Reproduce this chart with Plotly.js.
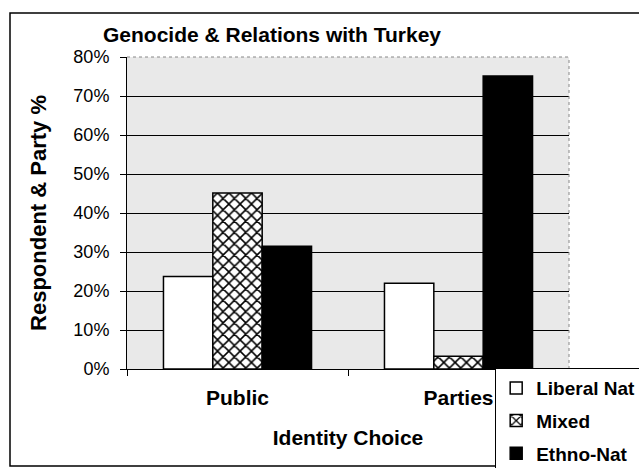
<!DOCTYPE html>
<html>
<head>
<meta charset="utf-8">
<script src="https://cdn.plot.ly/plotly-3.0.1.min.js"></script>
<style>html,body{margin:0;padding:0;background:#fff;}#chart{width:639px;height:468px;}</style>
</head>
<body>
<div id="chart"></div>
<script>
const categories = ["Public", "Parties"];
const liberalNat = [0.237, 0.22];
const mixed = [0.451, 0.033];
const ethnoNat = [0.315, 0.751];
const seriesNames = ["Liberal Nat", "Mixed", "Ethno-Nat"];
const yTicks = [0, 0.1, 0.2, 0.3, 0.4, 0.5, 0.6, 0.7, 0.8];
const yTickLabels = ["0%", "10%", "20%", "30%", "40%", "50%", "60%", "70%", "80%"];

const FONT = "Arial, 'Liberation Sans', sans-serif";

const traces = [
  {
    type: "bar", x: categories, y: liberalNat, name: seriesNames[0], legendgroup: "a",
    marker: {color: "#ffffff", line: {color: "#000000", width: 1.5}}
  },
  {
    type: "bar", x: categories, y: mixed, name: seriesNames[1], legendgroup: "b",
    marker: {color: "#ffffff", line: {color: "#000000", width: 1.5},
      pattern: {shape: "x", fgcolor: "#000000", bgcolor: "#ffffff", size: 8, solidity: 0.35}}
  },
  {
    type: "bar", x: categories, y: ethnoNat, name: seriesNames[2], legendgroup: "c",
    marker: {color: "#000000", line: {color: "#000000", width: 1.5}}
  }
];

const layout = {
  width: 639, height: 468,
  margin: {l: 127, r: 70, t: 57, b: 99, pad: 0, autoexpand: false},
  paper_bgcolor: "#ffffff",
  plot_bgcolor: "#e9e9e9",
  barmode: "group",
  bargap: 0.33,
  bargroupgap: 0,
  font: {family: FONT, color: "#000000"},
  title: {
    text: "Genocide & Relations with Turkey",
    font: {family: FONT, size: 21, color: "#000000", weight: "bold"},
    x: 0.4257, xanchor: "center", xref: "container",
    y: 0.927, yanchor: "middle", yref: "container"
  },
  xaxis: {
    type: "category",
    tickson: "boundaries",
    ticks: "outside", ticklen: 6, tickcolor: "#000000",
    tickfont: {family: FONT, size: 21, color: "#000000", weight: "bold"},
    ticklabelstandoff: 10,
    showline: true, linecolor: "#000000", linewidth: 1,
    mirror: false,
    showgrid: false,
    automargin: false,
    title: {text: "Identity Choice", font: {family: FONT, size: 21, color: "#000000", weight: "bold"}, standoff: 22}
  },
  yaxis: {
    range: [0, 0.8],
    tickvals: yTicks, ticktext: yTickLabels,
    ticks: "outside", ticklen: 6, tickcolor: "#000000",
    tickfont: {family: FONT, size: 18, color: "#000000"},
    ticklabelstandoff: 7,
    showline: true, linecolor: "#000000", linewidth: 1,
    showgrid: true, gridcolor: "#000000", gridwidth: 1,
    zeroline: false,
    automargin: false,
    title: {text: "Respondent & Party %", font: {family: FONT, size: 22, color: "#000000", weight: "bold"}, standoff: 20}
  },
  showlegend: true,
  legend: {
    x: 0.833, xanchor: "left", y: 0.003, yanchor: "top",
    bgcolor: "#ffffff", bordercolor: "#000000", borderwidth: 1,
    font: {family: FONT, size: 19, color: "#000000", weight: "bold"},
    traceorder: "grouped", tracegroupgap: 5,
    itemwidth: 30
  },
  shapes: [
    {type: "line", xref: "paper", yref: "paper", x0: 1, x1: 1, y0: 0, y1: 1,
     line: {color: "#888888", width: 1, dash: "dot"}},
    {type: "line", xref: "paper", yref: "paper", x0: 0, x1: 1, y0: 1, y1: 1,
     line: {color: "#888888", width: 1, dash: "dot"}},
    {type: "rect", xref: "paper", yref: "paper", x0: -0.2647, x1: 1.17, y0: -0.311, y1: 1.141,
     line: {color: "#000000", width: 1.5}, layer: "below"}
  ]
};

Plotly.newPlot("chart", traces, layout, {displayModeBar: false, staticPlot: true});
</script>
</body>
</html>
